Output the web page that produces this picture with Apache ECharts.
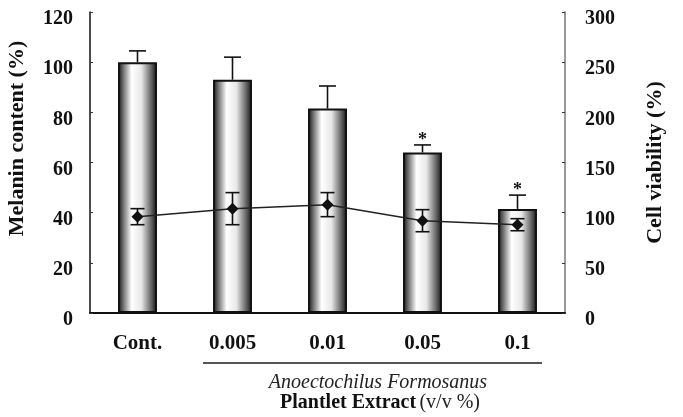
<!DOCTYPE html>
<html>
<head>
<meta charset="utf-8">
<script src="https://cdn.jsdelivr.net/npm/echarts@6/dist/echarts.min.js"></script>
<style>
  html, body { margin: 0; padding: 0; background: #fff; }
  #chart { width: 683px; height: 417px; }
</style>
</head>
<body>
<div id="chart"></div>
<script>
const categories = ['Cont.', '0.005', '0.01', '0.05', '0.1'];
const melanin = [100, 93, 81.5, 64, 41.5];
const melaninErr = [4.5, 9, 9, 3, 5.5];
const marks = ['', '', '', '*', '*'];
const viability = [96, 104, 108, 92, 88];
const viabilityErr = [8, 16, 12, 11, 6];

const serif = 'Liberation Serif';
const chart = echarts.init(document.getElementById('chart'));

// error bar drawing; oneSided = only the upper whisker (for bars)
function makeErrorRenderer(oneSided, capW) {
    return function (params, api) {
        const x = api.value(0), y = api.value(1), e = api.value(2);
        const top = api.coord([x, y + e]);
        const bot = api.coord([x, oneSided ? y : y - e]);
        const style = { stroke: '#111', lineWidth: 1.6 };
        const children = [
            { type: 'line', shape: { x1: top[0], y1: top[1], x2: bot[0], y2: bot[1] }, style: style },
            { type: 'line', shape: { x1: top[0] - capW / 2, y1: top[1], x2: top[0] + capW / 2, y2: top[1] }, style: style }
        ];
        if (!oneSided) {
            children.push({ type: 'line', shape: { x1: bot[0] - capW / 2, y1: bot[1], x2: bot[0] + capW / 2, y2: bot[1] }, style: style });
        }
        const m = oneSided ? marks[params.dataIndex] : '';
        if (m) {
            children.push({
                type: 'text',
                style: { text: m, x: top[0], y: top[1] - 5, align: 'center', verticalAlign: 'middle',
                    font: 'bold 18px "' + serif + '"', fill: '#111' }
            });
        }
        return { type: 'group', children: children };
    };
}

const yLabel = { color: '#111', fontFamily: serif, fontWeight: 'bold', fontSize: 20, verticalAlign: 'top', lineHeight: 14 };

const options = {
    animation: false,
    grid: { left: 90, right: 118, top: 12, bottom: 104, outerBoundsMode: 'none', containLabel: false },
    xAxis: {
        type: 'category',
        data: categories,
        axisLine: { lineStyle: { color: '#111', width: 2 } },
        axisTick: { inside: true, length: 3, lineStyle: { color: '#333' } },
        axisLabel: { color: '#111', fontFamily: serif, fontWeight: 'bold', fontSize: 21, margin: 20 }
    },
    yAxis: [
        {
            type: 'value', min: 0, max: 120, interval: 20,
            name: 'Melanin content (%)', nameLocation: 'middle', nameGap: 62, nameRotate: 90,
            nameTextStyle: { color: '#111', fontFamily: serif, fontWeight: 'bold', fontSize: 22, padding: [0, 0, 0, 48] },
            axisLine: { show: true, lineStyle: { color: '#111', width: 1.5 } },
            axisTick: { show: true, inside: true, length: 3, lineStyle: { color: '#333' } },
            axisLabel: Object.assign({ margin: 17 }, yLabel),
            splitLine: { show: false }
        },
        {
            type: 'value', min: 0, max: 300, interval: 50, position: 'right',
            name: 'Cell viability (%)', nameLocation: 'middle', nameGap: 79, nameRotate: 90,
            nameTextStyle: { color: '#111', fontFamily: serif, fontWeight: 'bold', fontSize: 22 },
            axisLine: { show: true, lineStyle: { color: '#777', width: 1.5 } },
            axisTick: { show: true, inside: true, length: 3, lineStyle: { color: '#333' } },
            axisLabel: Object.assign({ margin: 20 }, yLabel),
            splitLine: { show: false }
        }
    ],
    series: [
        {
            name: 'Melanin', type: 'bar', yAxisIndex: 0, data: melanin, barWidth: '41%',
            itemStyle: {
                borderColor: '#111', borderWidth: 2,
                color: new echarts.graphic.LinearGradient(0, 0, 1, 0, [
                    { offset: 0, color: '#111' },
                    { offset: 0.12, color: '#666' },
                    { offset: 0.35, color: '#fff' },
                    { offset: 0.6, color: '#e8e8e8' },
                    { offset: 0.85, color: '#666' },
                    { offset: 1, color: '#111' }
                ])
            },
            z: 2
        },
        {
            name: 'Melanin SD', type: 'custom', yAxisIndex: 0,
            renderItem: makeErrorRenderer(true, 17),
            data: melanin.map((v, i) => [i, v, melaninErr[i]]),
            z: 3
        },
        {
            name: 'Viability', type: 'line', yAxisIndex: 1, data: viability,
            symbol: 'diamond', symbolSize: 12,
            itemStyle: { color: '#111' },
            lineStyle: { color: '#222', width: 1.5 },
            z: 5
        },
        {
            name: 'Viability SD', type: 'custom', yAxisIndex: 1,
            renderItem: makeErrorRenderer(false, 14),
            data: viability.map((v, i) => [i, v, viabilityErr[i]]),
            z: 4
        }
    ],
    graphic: [
        { type: 'line', shape: { x1: 203, y1: 363, x2: 542, y2: 363 }, style: { stroke: '#555', lineWidth: 2 } },
        {
            type: 'text', x: 378, y: 383,
            style: { text: 'Anoectochilus Formosanus', align: 'center', verticalAlign: 'middle',
                font: 'italic 20px "' + serif + '"', fill: '#222' }
        },
        {
            type: 'text', x: 380, y: 403,
            style: {
                text: '{b|Plantlet Extract} {r|(v/v %)}', align: 'center', verticalAlign: 'middle',
                rich: {
                    b: { fontFamily: serif, fontWeight: 'bold', fontSize: 20, fill: '#111' },
                    r: { fontFamily: serif, fontSize: 20, fill: '#222' }
                }
            }
        }
    ]
};
chart.setOption(options);
</script>
</body>
</html>
